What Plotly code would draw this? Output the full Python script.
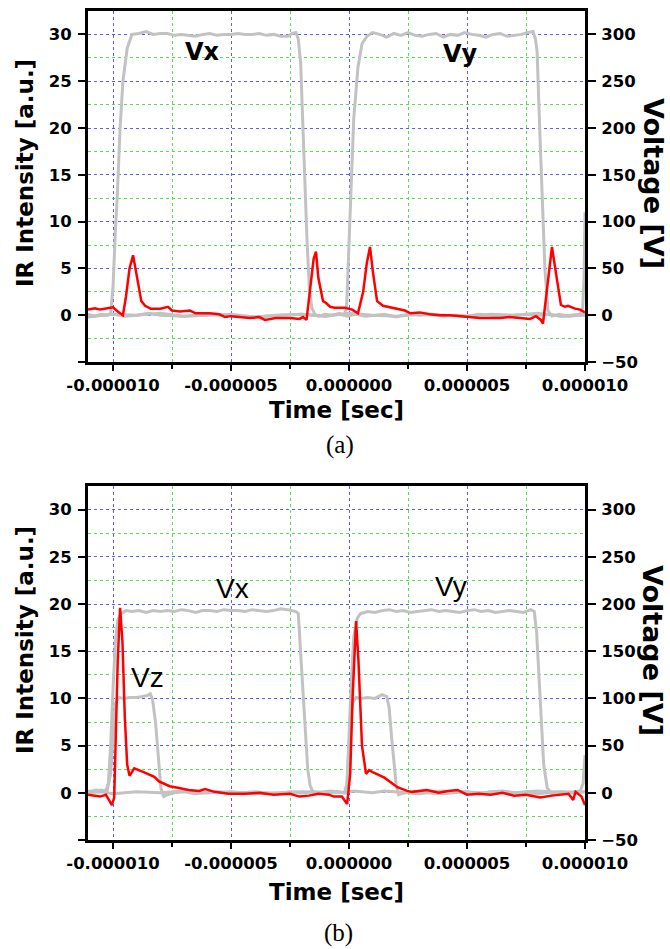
import plotly.graph_objects as go

# ---------------- data (time in microseconds) ----------------
# (a) upper panel: electrode voltages [V]
t_a_vx = [-11.06, -10.8, -10.5, -10.25, -10.1, -10.0, -9.9, -9.83, -9.7, -9.58, -9.4, -9.2,
          -8.9, -8.6, -8.3, -8.0, -7.7, -7.4, -7.1, -6.8, -6.5, -6.2, -5.9, -5.6, -5.3, -5.0,
          -4.7, -4.4, -4.1, -3.8, -3.5, -3.2, -2.9, -2.6, -2.4, -2.25, -2.15, -2.05, -1.95,
          -1.86, -1.78, -1.68, -1.58, -1.45, -1.3, -1.0, -0.7, -0.4, -0.1, 0.3, 0.7, 1.1, 1.5,
          2.0, 2.5, 3.0, 3.5, 4.0, 4.5, 5.0, 5.5, 6.0, 6.5, 7.0, 7.5, 8.0, 8.5, 9.0, 9.5, 9.8,
          9.9, 9.96, 10.0]
v_a_vx = [1, -1, 1, 0, 2, 30, 90, 122, 200, 250, 285, 300,
          301, 303, 300, 301, 301, 299, 300, 299, 298, 300, 301, 299, 300, 300,
          301, 300, 300, 301, 299, 300, 298, 298, 301, 302, 295, 270, 200,
          122, 80, 30, 8, 1, -1, 1, 0, 2, -1, 1, -1, 0, 1,
          -2, 1, 0, 1, -1, 0, -1, 1, 0, -1, 0, 1, 0, 1, -1, 0, 1,
          8, 40, 110]

t_a_vy = [-11.06, -10.5, -10.0, -9.5, -9.0, -8.5, -8.0, -7.0, -6.0, -5.0, -4.0, -3.0, -2.0,
          -1.5, -1.0, -0.5, -0.2, -0.1, 0.0, 0.05, 0.2, 0.38, 0.55, 0.76, 1.0, 1.3, 1.6, 1.9,
          2.2, 2.5, 2.8, 3.1, 3.4, 3.7, 4.0, 4.3, 4.6, 4.9, 5.2, 5.5, 5.8, 6.1, 6.4, 6.7, 7.0,
          7.3, 7.6, 7.8, 7.9, 7.97, 8.08, 8.18, 8.3, 8.43, 8.6, 8.9, 9.3, 9.7, 10.0]
v_a_vy = [-2, 0, 1, -1, 0, 2, 0, -1, 1, 0, -2, 0, 1,
          0, -1, 1, 0, 10, 80, 122, 210, 265, 290, 298, 302, 300, 297, 301,
          299, 302, 299, 298, 300, 301, 297, 300, 299, 302, 300, 299, 297, 300, 301, 298, 299,
          300, 302, 303, 295, 282, 200, 122, 50, 5, -1, 1, -1, 0, 1]

t_a_vz = [-11.06, -10.0, -9.0, -8.0, -7.0, -6.0, -5.0, -4.0, -3.0, -2.0, -1.0, 0.0, 1.0,
          2.0, 3.0, 4.0, 5.0, 6.0, 7.0, 8.0, 9.0, 10.0]
v_a_vz = [-1, 1, 0, 2, -1, 0, 1, -2, 0, 1, -1, 2, 0,
          -1, 1, 0, -1, 1, 0, 2, -1, 0]

# (a) upper panel: IR intensity [a.u.]
t_a_ir = [-11.06, -10.76, -10.55, -10.2, -10.0, -9.8, -9.58, -9.45, -9.3, -9.15, -9.0, -8.8,
          -8.64, -8.4, -8.0, -7.67, -7.5, -7.16, -6.74, -6.5, -6.3, -5.9, -5.5, -5.25, -5.0,
          -4.6, -4.2, -3.8, -3.56, -3.1, -2.5, -2.1, -1.95, -1.8, -1.65, -1.5, -1.4, -1.3,
          -1.1, -0.97, -0.8, -0.6, -0.17, 0.13, 0.38, 0.6, 0.75, 0.89, 1.02, 1.19, 1.44, 1.95,
          2.37, 2.6, 3.0, 3.43, 3.86, 4.28, 4.7, 5.1, 5.55, 5.97, 6.4, 6.8, 7.24, 7.67, 7.92,
          8.13, 8.22, 8.4, 8.6, 8.8, 8.98, 9.15, 9.28, 9.58, 9.8, 10.0]
ir_a = [0.6, 0.75, 0.6, 0.75, 0.85, 0.4, 0.0, 2.0, 5.0, 6.4, 4.2, 1.5,
        1.0, 0.7, 0.7, 0.9, 0.5, 0.4, 0.5, 0.2, 0.2, 0.2, 0.1, -0.2, -0.1,
        -0.2, -0.3, -0.2, -0.5, -0.3, -0.3, -0.4, -0.2, -0.5, 2.5, 6.0, 6.8, 4.0,
        1.5, 1.3, 0.9, 0.8, 0.8, 0.6, 0.2, 2.5, 5.5, 7.3, 4.5, 1.5, 1.0, 0.7,
        0.5, 0.2, 0.3, 0.1, 0.0, 0.0, -0.1, -0.2, -0.3, -0.3, -0.3, -0.2, -0.3, -0.4, -0.1,
        -0.5, -0.9, 3.0, 7.3, 4.0, 1.1, 0.9, 1.0, 0.7, 0.6, 0.3]

# (b) lower panel: electrode voltages [V]
t_b_vx = [-11.06, -10.8, -10.5, -10.3, -10.2, -10.1, -10.0, -9.9, -9.8, -9.65, -9.45, -9.2,
          -8.9, -8.6, -8.3, -8.0, -7.7, -7.4, -7.1, -6.8, -6.5, -6.2, -5.9, -5.6, -5.3, -5.0,
          -4.7, -4.4, -4.1, -3.8, -3.5, -3.2, -2.9, -2.6, -2.4, -2.25, -2.15, -2.05, -1.95,
          -1.85, -1.75, -1.65, -1.55, -1.4, -1.1, -0.8, -0.5, -0.2, 0.2, 0.6, 1.0, 1.5, 2.0,
          2.5, 3.0, 3.5, 4.0, 4.5, 5.0, 5.5, 6.0, 6.5, 7.0, 7.5, 8.0, 8.5, 9.0, 9.5, 9.8, 9.92,
          10.0]
v_b_vx = [2, 1, 3, 2, 10, 50, 110, 160, 183, 190, 193, 192,
          193, 191, 193, 192, 193, 192, 194, 193, 191, 193, 193, 192, 194, 193,
          193, 192, 194, 193, 192, 193, 195, 194, 193, 192, 190, 150, 100,
          60, 25, 8, 2, 0, 1, 2, 1, 0, 2, 1, 0, 2, 1,
          0, -1, 1, 2, 0, 1, -1, 1, 2, 0, 1, 2, 1, 0, 1, 2, 10,
          40]

t_b_vy = [-11.06, -10.5, -10.0, -9.5, -9.0, -8.0, -7.0, -6.0, -5.0, -4.0, -3.0, -2.0, -1.0,
          -0.5, -0.2, -0.08, 0.0, 0.08, 0.2, 0.35, 0.5, 0.8, 1.1, 1.4, 1.7, 2.0, 2.3, 2.6, 2.9,
          3.2, 3.5, 3.8, 4.1, 4.4, 4.7, 5.0, 5.3, 5.6, 5.9, 6.2, 6.5, 6.8, 7.1, 7.4, 7.7, 7.85,
          7.95, 8.05, 8.15, 8.25, 8.4, 8.6, 9.0, 9.5, 10.0]
v_b_vy = [0, 1, -1, 0, 1, 0, 2, 0, 1, -1, 0, 1, 0,
          1, 0, 10, 60, 110, 165, 185, 190, 192, 191, 193, 194, 192, 193, 191, 192,
          193, 194, 192, 193, 192, 191, 193, 194, 192, 193, 191, 192, 193, 192, 191, 194, 192,
          170, 120, 70, 30, 5, -1, 1, 0, 1]

t_b_vz = [-11.06, -10.7, -10.4, -10.25, -10.1, -10.0, -9.9, -9.75, -9.55, -9.3, -9.0, -8.75,
          -8.55, -8.42, -8.32, -8.2, -8.08, -7.97, -7.85, -7.7, -7.4, -7.0, -6.5, -6.0, -5.5,
          -5.0, -4.5, -4.0, -3.5, -3.0, -2.5, -2.0, -1.5, -1.0, -0.5, -0.2, -0.1, 0.0, 0.15,
          0.3, 0.5, 0.8, 1.1, 1.4, 1.6, 1.7, 1.8, 1.9, 2.0, 2.1, 2.2, 2.4, 2.8, 3.3, 4.0, 4.8,
          5.6, 6.4, 7.2, 8.0, 8.8, 9.6, 10.0]
v_b_vz = [1, 3, 2, 2, 20, 60, 95, 101, 100, 101, 101, 102,
          103, 105, 98, 75, 40, 5, -4, -2, 0, 1, -1, 0, 1,
          -1, 0, 1, 0, -1, 1, 0, 1, 0, 1, 0, 5, 50, 95,
          101, 100, 101, 100, 104, 102, 90, 60, 30, 8, -2, -1, 0, 1, 0, -1, 1,
          0, 1, 0, -1, 1, 0, 1]

# (b) lower panel: IR intensity [a.u.]
t_b_ir = [-11.06, -10.55, -10.3, -10.2, -10.05, -9.95, -9.9, -9.8, -9.7, -9.6, -9.5, -9.4,
          -9.3, -9.1, -8.7, -8.25, -8.05, -7.6, -7.2, -6.8, -6.35, -6.1, -5.7, -5.1, -4.4,
          -3.8, -3.2, -2.5, -2.1, -1.7, -1.3, -0.85, -0.64, -0.3, -0.08, 0.05, 0.15, 0.3, 0.4,
          0.55, 0.72, 0.85, 1.0, 1.5, 2.05, 2.46, 2.67, 3.3, 3.8, 4.2, 4.6, 5.0, 5.5, 6.0, 6.5,
          7.0, 7.5, 7.9, 8.1, 8.6, 9.0, 9.3, 9.5, 9.6, 9.85, 10.0]
ir_b = [-0.2, -0.4, -0.2, -0.6, -1.3, -0.5, 4.0, 14.0, 19.6, 16.0, 8.0, 3.0,
        1.8, 2.6, 2.2, 1.7, 1.2, 0.7, 0.5, 0.3, 0.2, 0.4, 0.1, -0.1, -0.1,
        0.0, -0.2, -0.1, -0.4, -0.3, -0.1, -0.2, -0.4, -0.4, -1.2, 2.0, 10.0, 18.2, 14.0,
        5.0, 2.0, 2.4, 2.2, 1.6, 0.6, 0.2, 0.1, 0.3, 0.0, 0.2, 0.3, -0.2, -0.1, -0.2, 0.0,
        -0.3, -0.2, -0.4, -0.5, -0.3, -0.2, -0.1, -0.75, 0.1, -0.4, -1.3]

# ---------------- tick definitions ----------------
x_ticks_us = [-10, -5, 0, 5, 10]
x_tick_text = ["-0.000010", "-0.000005", "0.000000", "0.000005", "0.000010"]
x_minor_us = [-7.5, -2.5, 2.5, 7.5]
ir_ticks = [-5, 0, 5, 10, 15, 20, 25, 30]
ir_tick_text = ["", "0", "5", "10", "15", "20", "25", "30"]
ir_minor = [-2.5, 2.5, 7.5, 12.5, 17.5, 22.5, 27.5]
volt_ticks = [-50, 0, 50, 100, 150, 200, 250, 300]

US = 1e-6


def sec(ts):
    return [t * US for t in ts]


W, H = 670, 949
GRAY = "#c2c2c2"
RED = "#ff0000"
BLUE_GRID = "#5a5aff"
GREEN_GRID = "#55dd55"
TICK_FONT = dict(family="DejaVu Sans", size=16.5, color="black", weight="bold")

fig = go.Figure()

panels = [
    # (x axis, voltage axis, IR axis, voltage series, IR series)
    ("x", "y", "y2",
     [(t_a_vx, v_a_vx), (t_a_vy, v_a_vy), (t_a_vz, v_a_vz)], (t_a_ir, ir_a)),
    ("x2", "y3", "y4",
     [(t_b_vx, v_b_vx), (t_b_vy, v_b_vy), (t_b_vz, v_b_vz)], (t_b_ir, ir_b)),
]

for xa, ya_v, ya_ir, volts, ir in panels:
    for ts, vs in volts:
        fig.add_trace(go.Scatter(x=sec(ts), y=vs, mode="lines", xaxis=xa, yaxis=ya_v,
                                 line=dict(color=GRAY, width=3), showlegend=False,
                                 hoverinfo="skip"))
    fig.add_trace(go.Scatter(x=sec(ir[0]), y=ir[1], mode="lines", xaxis=xa, yaxis=ya_ir,
                             line=dict(color=RED, width=2.5), showlegend=False,
                             hoverinfo="skip"))

x_dom = [88 / W, 585 / W]
top_dom = [1 - 362 / H, 1 - 11 / H]
bot_dom = [1 - 840 / H, 1 - 486 / H]


def xaxis_cfg(anchor):
    return dict(
        domain=x_dom, anchor=anchor, range=[-11.06 * US, 10 * US], automargin=False,
        tickmode="array", tickvals=sec(x_ticks_us), ticktext=x_tick_text,
        ticks="outside", ticklen=6, tickwidth=2, tickcolor="black",
        tickfont=TICK_FONT, ticklabelstandoff=0,
        showline=True, linewidth=3, linecolor="black", mirror=True,
        showgrid=True, gridcolor=BLUE_GRID, griddash="dot", gridwidth=1,
        zeroline=False,
        minor=dict(tickmode="array", tickvals=sec(x_minor_us), ticks="outside",
                   ticklen=4, tickwidth=2, tickcolor="black",
                   showgrid=True, gridcolor=GREEN_GRID, griddash="dot", gridwidth=1),
    )


def volt_cfg(anchor, dom):
    return dict(
        domain=dom, anchor=anchor, side="right", range=[-50, 325], automargin=False,
        tickmode="array", tickvals=volt_ticks,
        ticks="outside", ticklen=8, tickwidth=2, tickcolor="black",
        tickfont=TICK_FONT, ticklabelstandoff=2,
        showline=True, linewidth=3, linecolor="black",
        showgrid=False, zeroline=False,
    )


def ir_cfg(anchor, over):
    return dict(
        anchor=anchor, overlaying=over, side="left", range=[-5, 32.5], automargin=False,
        tickmode="array", tickvals=ir_ticks, ticktext=ir_tick_text,
        ticks="outside", ticklen=7, tickwidth=2, tickcolor="black",
        tickfont=TICK_FONT, ticklabelstandoff=3,
        showline=True, linewidth=3, linecolor="black",
        showgrid=True, gridcolor=BLUE_GRID, griddash="dot", gridwidth=1,
        zeroline=False,
        minor=dict(tickmode="array", tickvals=ir_minor, ticks="",
                   showgrid=True, gridcolor=GREEN_GRID, griddash="dot", gridwidth=1),
    )


def ann(text, px, py, size, family="DejaVu Sans", weight="bold", angle=0):
    return dict(text=text, x=px / W, y=1 - py / H, xref="paper", yref="paper",
                xanchor="center", yanchor="middle", showarrow=False, textangle=angle,
                font=dict(family=family, size=size, color="black", weight=weight))


annotations = [
    ann("IR Intensity [a.u.]", 25, 173, 23, angle=-90),
    ann("Voltage [V]", 653, 183, 27, angle=90),
    ann("Time [sec]", 336, 410, 23),
    ann("(a)", 340, 445, 25, family="Liberation Serif", weight="normal"),
    ann("Vx", 202, 52, 24),
    ann("Vy", 460, 54, 24),
    ann("IR Intensity [a.u.]", 25, 640, 23, angle=-90),
    ann("Voltage [V]", 653, 650, 27, angle=90),
    ann("Time [sec]", 336, 892, 23),
    ann("(b)", 339, 933, 25, family="Liberation Serif", weight="normal"),
    ann("Vx", 232, 588, 28, family="Liberation Sans", weight="normal"),
    ann("Vy", 451, 586, 28, family="Liberation Sans", weight="normal"),
    ann("Vz", 147, 677, 28, family="Liberation Sans", weight="normal"),
]

fig.update_layout(
    width=W, height=H,
    margin=dict(l=0, r=0, t=0, b=0, autoexpand=False),
    paper_bgcolor="white", plot_bgcolor="white",
    showlegend=False,
    xaxis=xaxis_cfg("y"),
    yaxis=volt_cfg("x", top_dom),
    yaxis2=ir_cfg("x", "y"),
    xaxis2=xaxis_cfg("y3"),
    yaxis3=volt_cfg("x2", bot_dom),
    yaxis4=ir_cfg("x2", "y3"),
    annotations=annotations,
)

fig.write_html("out.html")
